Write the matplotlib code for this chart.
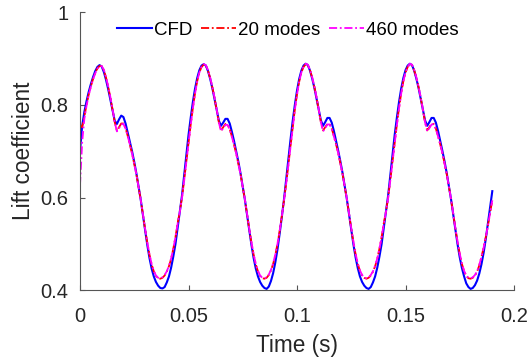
import numpy as np
import matplotlib
matplotlib.use("Agg")
import matplotlib.pyplot as plt
from matplotlib.ticker import FixedLocator, FixedFormatter

plt.rcParams['font.family'] = ['Liberation Sans', 'DejaVu Sans']

# Sampling interval of the lift histories (s)
dt = 0.001

cfd = [
    0.700, 0.755, 0.785, 0.808, 0.828, 0.845, 0.860, 0.873, 0.882, 0.886,
    0.883, 0.871, 0.854, 0.834, 0.811, 0.787, 0.766, 0.759, 0.769, 0.777,
    0.774, 0.760, 0.740, 0.720, 0.700, 0.677, 0.652, 0.624, 0.595, 0.562,
    0.530, 0.498, 0.470, 0.447, 0.430, 0.418, 0.410, 0.405, 0.404, 0.407,
    0.417, 0.430, 0.449, 0.473, 0.500, 0.535, 0.570, 0.605, 0.648, 0.692,
    0.735, 0.772, 0.806, 0.835, 0.858, 0.875, 0.885, 0.888, 0.885, 0.873,
    0.856, 0.836, 0.813, 0.789, 0.766, 0.755, 0.762, 0.770, 0.770, 0.760,
    0.742, 0.722, 0.700, 0.677, 0.652, 0.624, 0.595, 0.562, 0.530, 0.498,
    0.470, 0.447, 0.430, 0.418, 0.410, 0.405, 0.403, 0.408, 0.420, 0.437,
    0.460, 0.488, 0.522, 0.558, 0.596, 0.638, 0.682, 0.725, 0.765, 0.800,
    0.831, 0.856, 0.874, 0.885, 0.889, 0.886, 0.874, 0.857, 0.837, 0.814,
    0.790, 0.767, 0.755, 0.763, 0.772, 0.772, 0.762, 0.744, 0.723, 0.701,
    0.678, 0.653, 0.625, 0.596, 0.563, 0.531, 0.499, 0.471, 0.448, 0.430,
    0.418, 0.410, 0.405, 0.403, 0.407, 0.417, 0.430, 0.449, 0.473, 0.500,
    0.535, 0.570, 0.605, 0.648, 0.692, 0.735, 0.772, 0.806, 0.835, 0.858,
    0.875, 0.885, 0.889, 0.886, 0.874, 0.857, 0.837, 0.814, 0.790, 0.767,
    0.755, 0.763, 0.772, 0.772, 0.762, 0.744, 0.723, 0.701, 0.678, 0.653,
    0.625, 0.596, 0.563, 0.531, 0.499, 0.471, 0.448, 0.430, 0.415, 0.407,
    0.403, 0.405, 0.411, 0.421, 0.436, 0.456, 0.481, 0.511, 0.545, 0.580,
    0.614,
]

rom20 = [
    0.757, 0.752, 0.775, 0.800, 0.822, 0.840, 0.856, 0.869, 0.879, 0.884,
    0.884, 0.875, 0.859, 0.839, 0.816, 0.790, 0.763, 0.745, 0.752, 0.760,
    0.760, 0.750, 0.733, 0.714, 0.695, 0.673, 0.650, 0.623, 0.595, 0.563,
    0.532, 0.503, 0.477, 0.456, 0.441, 0.431, 0.426, 0.425, 0.427, 0.432,
    0.440, 0.452, 0.468, 0.490, 0.515, 0.545, 0.570, 0.600, 0.638, 0.678,
    0.718, 0.757, 0.793, 0.825, 0.851, 0.870, 0.882, 0.887, 0.885, 0.874,
    0.858, 0.838, 0.815, 0.789, 0.762, 0.745, 0.752, 0.759, 0.758, 0.748,
    0.732, 0.714, 0.695, 0.673, 0.650, 0.623, 0.595, 0.563, 0.532, 0.503,
    0.477, 0.456, 0.441, 0.431, 0.426, 0.425, 0.427, 0.433, 0.443, 0.457,
    0.476, 0.500, 0.528, 0.560, 0.594, 0.630, 0.670, 0.712, 0.752, 0.790,
    0.823, 0.850, 0.870, 0.882, 0.888, 0.886, 0.875, 0.859, 0.839, 0.816,
    0.790, 0.763, 0.745, 0.752, 0.759, 0.759, 0.749, 0.733, 0.715, 0.696,
    0.674, 0.651, 0.624, 0.596, 0.564, 0.533, 0.504, 0.478, 0.457, 0.442,
    0.432, 0.427, 0.425, 0.427, 0.432, 0.440, 0.452, 0.468, 0.490, 0.515,
    0.545, 0.570, 0.600, 0.638, 0.678, 0.718, 0.757, 0.793, 0.825, 0.851,
    0.870, 0.882, 0.888, 0.886, 0.875, 0.859, 0.839, 0.816, 0.790, 0.763,
    0.745, 0.752, 0.759, 0.759, 0.749, 0.733, 0.715, 0.696, 0.674, 0.651,
    0.624, 0.596, 0.564, 0.533, 0.504, 0.478, 0.457, 0.441, 0.431, 0.426,
    0.425, 0.427, 0.432, 0.440, 0.454, 0.472, 0.492, 0.515, 0.540, 0.567,
    0.595,
]

rom460 = [
    0.627, 0.720, 0.770, 0.798, 0.821, 0.839, 0.855, 0.868, 0.878, 0.884,
    0.884, 0.876, 0.860, 0.840, 0.817, 0.791, 0.763, 0.743, 0.750, 0.758,
    0.759, 0.749, 0.733, 0.714, 0.695, 0.673, 0.650, 0.623, 0.595, 0.564,
    0.533, 0.504, 0.478, 0.457, 0.442, 0.432, 0.427, 0.426, 0.428, 0.433,
    0.441, 0.453, 0.469, 0.490, 0.515, 0.544, 0.569, 0.599, 0.637, 0.677,
    0.717, 0.756, 0.792, 0.824, 0.851, 0.870, 0.882, 0.888, 0.886, 0.875,
    0.859, 0.839, 0.816, 0.790, 0.762, 0.743, 0.750, 0.757, 0.757, 0.747,
    0.731, 0.714, 0.695, 0.673, 0.650, 0.623, 0.596, 0.564, 0.533, 0.504,
    0.478, 0.457, 0.442, 0.432, 0.427, 0.426, 0.428, 0.434, 0.444, 0.458,
    0.477, 0.500, 0.528, 0.559, 0.593, 0.629, 0.669, 0.711, 0.751, 0.789,
    0.822, 0.850, 0.870, 0.883, 0.889, 0.887, 0.876, 0.860, 0.840, 0.817,
    0.791, 0.763, 0.743, 0.750, 0.758, 0.758, 0.748, 0.732, 0.715, 0.696,
    0.674, 0.651, 0.624, 0.597, 0.565, 0.534, 0.505, 0.479, 0.458, 0.443,
    0.433, 0.428, 0.426, 0.428, 0.433, 0.441, 0.453, 0.469, 0.490, 0.515,
    0.544, 0.569, 0.599, 0.637, 0.677, 0.717, 0.756, 0.792, 0.824, 0.851,
    0.870, 0.882, 0.889, 0.887, 0.876, 0.860, 0.840, 0.817, 0.791, 0.763,
    0.743, 0.750, 0.758, 0.758, 0.748, 0.732, 0.715, 0.696, 0.674, 0.651,
    0.624, 0.597, 0.565, 0.534, 0.505, 0.479, 0.458, 0.442, 0.432, 0.427,
    0.426, 0.428, 0.433, 0.441, 0.455, 0.472, 0.492, 0.515, 0.540, 0.567,
    0.594,
]

series_labels = ["CFD", "20 modes", "460 modes"]
x_ticks = [0, 0.05, 0.1, 0.15, 0.2]
x_ticklabels = ["0", "0.05", "0.1", "0.15", "0.2"]
y_ticks = [0.4, 0.6, 0.8, 1.0]
y_ticklabels = ["0.4", "0.6", "0.8", "1"]

t = np.arange(len(cfd)) * dt

fig = plt.figure(figsize=(5.29, 3.60), dpi=100)
ax = fig.add_axes([80 / 529, (360 - 290.3) / 360, 434 / 529, 278 / 360])

ax.plot(t, cfd, color="#0000ff", lw=1.5, ls="-", label=series_labels[0])
ax.plot(t, rom20, color="#ff0000", lw=1.3, ls=(0, (4.5, 1.5, 1, 1.5)),
        label=series_labels[1])
ax.plot(t, rom460, color="#ff00ff", lw=1.3, ls=(0, (4.5, 1.5, 1, 1.5)),
        label=series_labels[2])

ax.set_xlim(0, 0.2)
ax.set_ylim(0.4, 1.0)
ax.xaxis.set_major_locator(FixedLocator(x_ticks))
ax.xaxis.set_major_formatter(FixedFormatter(x_ticklabels))
ax.yaxis.set_major_locator(FixedLocator(y_ticks))
ax.yaxis.set_major_formatter(FixedFormatter(y_ticklabels))

for side in ("top", "right"):
    ax.spines[side].set_visible(False)
for side in ("left", "bottom"):
    ax.spines[side].set_color("#555555")
    ax.spines[side].set_linewidth(0.8)

ax.tick_params(axis="both", direction="in", length=3.5, width=0.8,
               color="#555555", labelcolor="#262626", labelsize=14.5)
ax.tick_params(axis="x", pad=12)
ax.tick_params(axis="y", pad=8.5)

ax.set_xlabel("Time (s)", fontsize=16.3, color="#262626", labelpad=6)
ax.set_ylabel("Lift coefficient", fontsize=16.3, color="#262626", labelpad=4)

ax.legend(loc="center", bbox_to_anchor=(0.479, 0.936), ncol=3, frameon=False,
          fontsize=13.5, handlelength=1.87, handletextpad=0.1,
          columnspacing=0.45, borderpad=0, borderaxespad=0)

fig.savefig("out.png", dpi=100)
